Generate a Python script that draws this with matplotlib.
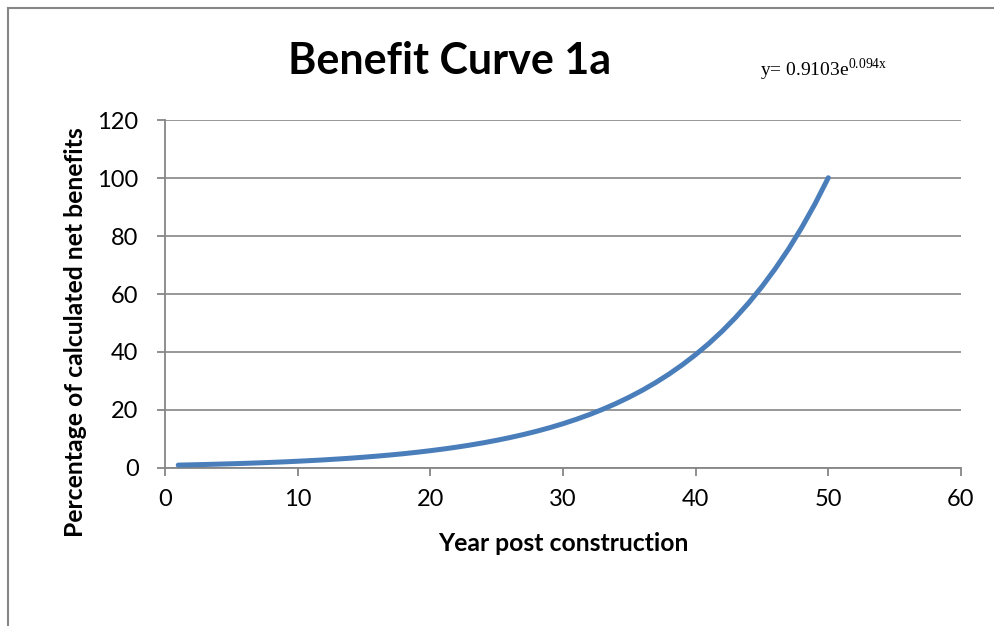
import matplotlib
matplotlib.use('Agg')
from matplotlib import pyplot as plt
from matplotlib.lines import Line2D

# Year post construction
years = list(range(1, 51))
# Percentage of calculated net benefits
benefits = [1.00, 1.10, 1.21, 1.33, 1.46, 1.60, 1.76, 1.93, 2.12, 2.33,
            2.56, 2.81, 3.09, 3.39, 3.73, 4.10, 4.50, 4.94, 5.43, 5.97,
            6.55, 7.20, 7.91, 8.69, 9.55, 10.49, 11.52, 12.65, 13.90, 15.27,
            16.78, 18.43, 20.25, 22.24, 24.44, 26.84, 29.49, 32.40, 35.59, 39.10,
            42.95, 47.18, 51.83, 56.94, 62.55, 68.72, 75.49, 82.93, 91.10, 100.09]

x_ticks = [0, 10, 20, 30, 40, 50, 60]
y_ticks = [0, 20, 40, 60, 80, 100, 120]

title = 'Benefit Curve 1a'
x_label = 'Year post construction'
y_label = 'Percentage of calculated net benefits'

plt.rcParams['font.family'] = ['Lato', 'DejaVu Sans']
plt.rcParams['mathtext.fontset'] = 'custom'
plt.rcParams['mathtext.rm'] = 'Liberation Serif'

grey = '#868686'

fig = plt.figure(figsize=(9.95, 6.26), dpi=100)
ax = fig.add_axes([0.1658, 0.2524, 0.8, 0.5559])

ax.plot(years, benefits, color='#4A7EBB', lw=3.6, solid_capstyle='round', zorder=3)

ax.set_xlim(0, 60)
ax.set_ylim(0, 120)
ax.set_xticks(x_ticks)
ax.set_yticks(y_ticks)
ax.tick_params(axis='both', labelsize=17, color=grey, length=6, width=1.3)
ax.tick_params(axis='y', pad=13)
ax.tick_params(axis='x', pad=9)
ax.grid(axis='y', color=grey, lw=1.2)
ax.set_axisbelow(True)
for s in ['top', 'right']:
    ax.spines[s].set_visible(False)
for s in ['left', 'bottom']:
    ax.spines[s].set_color(grey)
    ax.spines[s].set_linewidth(1.3)

ax.set_xlabel(x_label, fontsize=17.8, fontweight='bold', labelpad=16)
ax.set_ylabel(y_label, fontsize=17.8, fontweight='bold', va='center', ha='center')
# label sits a bit lower than the plot centre in the original
ax.yaxis.set_label_coords(-0.113, 0.391)

fig.text(0.452, 0.903, title, fontsize=31, fontweight='bold', ha='center', va='center')
fig.text(0.764, 0.888, r'y= 0.9103e$^{\mathrm{0.094x}}$', fontsize=14, ha='left', va='center',
         family='Liberation Serif')

# outer chart border (left and top edges visible)
fig.add_artist(Line2D([0.008, 0.008], [0.0, 0.987], color=grey, lw=1.5, transform=fig.transFigure))
fig.add_artist(Line2D([0.008, 1.0], [0.987, 0.987], color=grey, lw=1.5, transform=fig.transFigure))

fig.savefig('out.png', dpi=100)
